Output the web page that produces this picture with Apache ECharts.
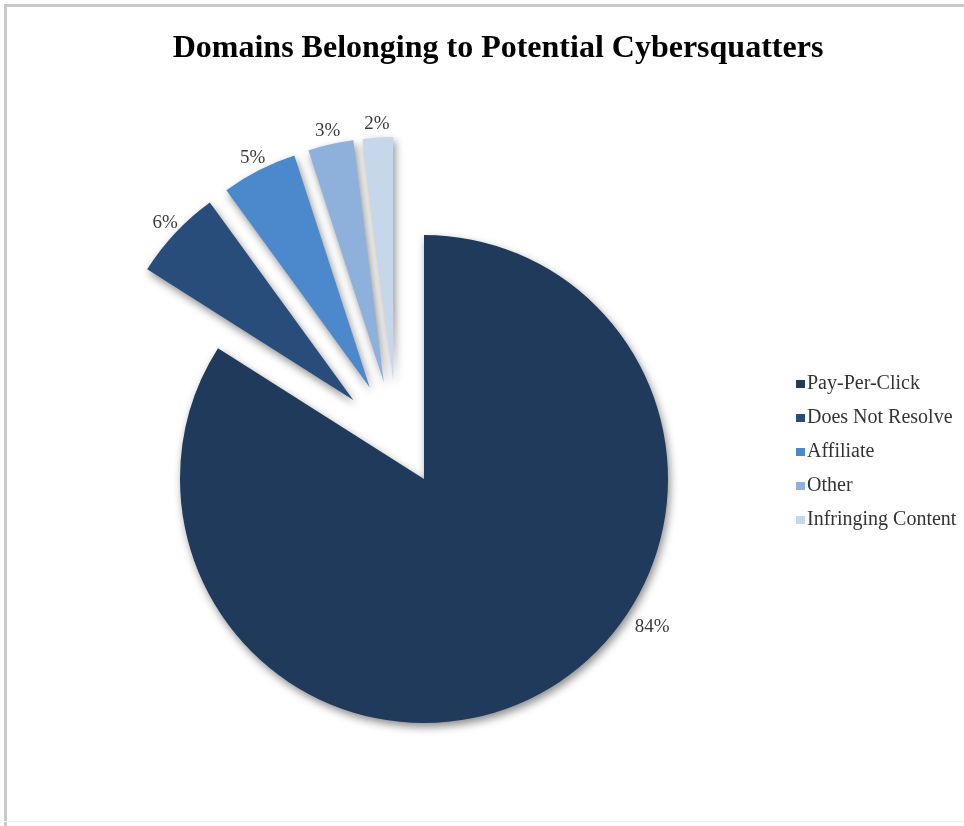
<!DOCTYPE html>
<html><head><meta charset="utf-8">
<script src="https://cdn.jsdelivr.net/npm/echarts@6/dist/echarts.min.js"></script>
<style>
html,body{margin:0;padding:0;background:#fff;overflow:hidden;}
#chart{position:absolute;left:0;top:0;width:964px;height:826px;}
#lineTop{position:absolute;left:4px;top:4px;width:960px;height:3px;background:#c9c9c9;}
#lineLeft{position:absolute;left:4px;top:4px;width:3px;height:822px;background:#c9c9c9;}
#lineBottom{position:absolute;left:4px;top:821px;width:960px;height:1px;background:#f0f0f0;}
</style></head>
<body>
<div id="chart"></div>
<div id="lineTop"></div><div id="lineLeft"></div><div id="lineBottom"></div>
<script>
const titleText = 'Domains Belonging to Potential Cybersquatters';
const categories = ['Pay-Per-Click', 'Does Not Resolve', 'Affiliate', 'Other', 'Infringing Content'];
const shares = [84, 6, 5, 3, 2];
const colors = ['#1f3a5b', '#284d7b', '#4c89cc', '#8eb1dc', '#c6d7ec'];

const FONT = '"Liberation Serif", "Times New Roman", serif';
const R = 244;
const centerMain = [424, 479];
const centerExploded = [397, 441];
const mainLabelAngle = 123; // degrees clockwise from 12 o'clock
const mainLabelRadius = 272;

const shadow = {
  shadowBlur: 8,
  shadowColor: 'rgba(0,0,0,0.45)',
  shadowOffsetX: 2,
  shadowOffsetY: 4
};

const mainData = categories.map((name, i) => {
  const visible = i === 0;
  return {
    name: name,
    value: shares[i],
    itemStyle: Object.assign({ color: colors[i], opacity: visible ? 1 : 0 }, visible ? shadow : { shadowBlur: 0 }),
    label: { show: visible }
  };
});

const explodedData = categories.map((name, i) => {
  const visible = i !== 0;
  return {
    name: name,
    value: shares[i],
    selected: visible,
    itemStyle: Object.assign({ color: colors[i], opacity: visible ? 1 : 0 }, visible ? shadow : { shadowBlur: 0 }),
    label: { show: visible }
  };
});

const labelStyle = {
  position: 'outside',
  formatter: p => p.value + '%',
  fontFamily: FONT,
  fontSize: 19,
  color: '#3a3a3a',
  distanceToLabelLine: 0
};

const chart = echarts.init(document.getElementById('chart'), null, { renderer: 'canvas' });
chart.setOption({
  animation: false,
  backgroundColor: '#ffffff',
  title: {
    text: titleText,
    left: 493,
    textAlign: 'center',
    top: 28,
    textStyle: { fontFamily: FONT, fontWeight: 'bold', fontSize: 32, color: '#000' }
  },
  legend: {
    orient: 'vertical',
    left: 791,
    top: 369,
    icon: 'rect',
    itemWidth: 9,
    itemHeight: 8,
    itemGap: 14,
    selectedMode: false,
    textStyle: { fontFamily: FONT, fontSize: 20, color: '#333', lineHeight: 20, padding: [0, 0, 0, -3] },
    data: categories.map((n, i) => ({ name: n, itemStyle: { color: colors[i], opacity: 1 } }))
  },
  series: [
    {
      type: 'pie',
      name: 'main',
      center: centerMain,
      radius: R,
      startAngle: 90,
      clockwise: true,
      avoidLabelOverlap: false,
      silent: true,
      label: labelStyle,
      labelLine: { show: false },
      labelLayout: function (p) {
        if (p.dataIndex !== 0) return;
        const a = mainLabelAngle * Math.PI / 180;
        return {
          x: centerMain[0] + mainLabelRadius * Math.sin(a),
          y: centerMain[1] - mainLabelRadius * Math.cos(a),
          align: 'center',
          verticalAlign: 'middle'
        };
      },
      data: mainData
    },
    {
      type: 'pie',
      name: 'exploded',
      center: centerExploded,
      radius: R,
      startAngle: 90,
      clockwise: true,
      avoidLabelOverlap: false,
      selectedMode: 'multiple',
      selectedOffset: 60,
      silent: true,
      label: labelStyle,
      labelLine: { show: false, length: 14, length2: 0 },
      labelLayout: function () {
        return { align: 'center', verticalAlign: 'middle' };
      },
      data: explodedData
    }
  ]
});
</script>
</body></html>
